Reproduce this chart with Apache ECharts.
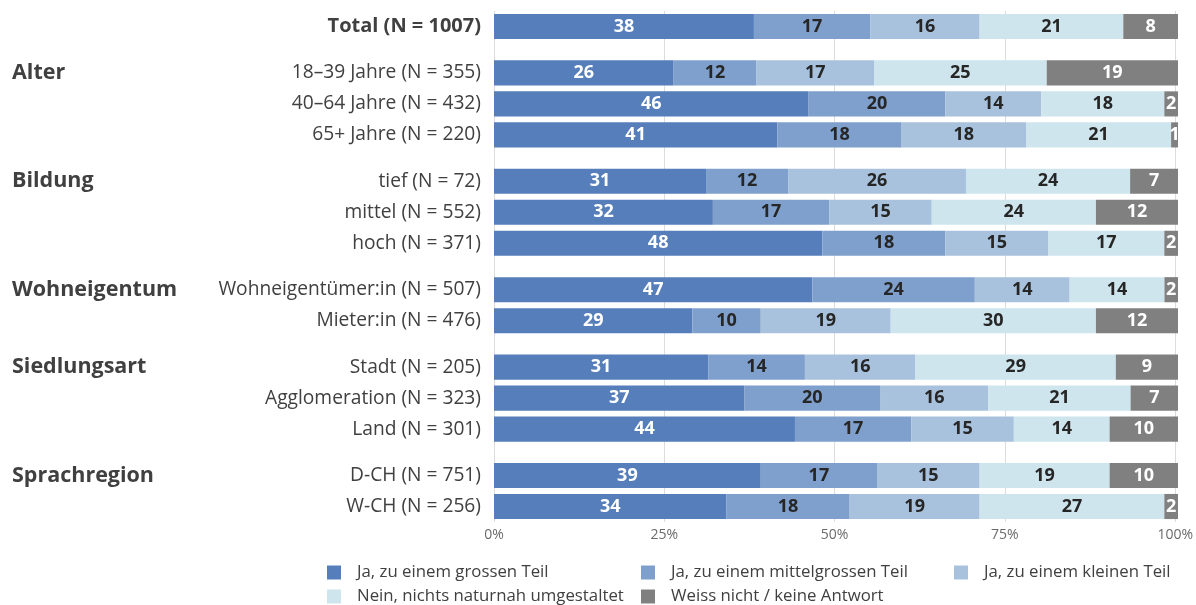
<!DOCTYPE html>
<html>
<head>
<meta charset="utf-8">
<script src="https://cdn.jsdelivr.net/npm/echarts@6/dist/echarts.min.js"></script>
<style>
html,body{margin:0;padding:0;background:#fff;}
#chart{width:1196px;height:605px;}
</style>
</head>
<body>
<div id="chart"></div>
<script>
// ---- data ----
const groupNames = ['', 'Alter', 'Bildung', 'Wohneigentum', 'Siedlungsart', 'Sprachregion'];
const categories = [
  'Total (N = 1007)',
  '18–39 Jahre (N = 355)', '40–64 Jahre (N = 432)', '65+ Jahre (N = 220)',
  'tief (N = 72)', 'mittel (N = 552)', 'hoch (N = 371)',
  'Wohneigentümer:in (N = 507)', 'Mieter:in (N = 476)',
  'Stadt (N = 205)', 'Agglomeration (N = 323)', 'Land (N = 301)',
  'D-CH (N = 751)', 'W-CH (N = 256)'
];
const groupOfRow = [0, 1, 1, 1, 2, 2, 2, 3, 3, 4, 4, 4, 5, 5];
const seriesNames = [
  'Ja, zu einem grossen Teil',
  'Ja, zu einem mittelgrossen Teil',
  'Ja, zu einem kleinen Teil',
  'Nein, nichts naturnah umgestaltet',
  'Weiss nicht / keine Antwort'
];
const jaGross     = [38, 26, 46, 41, 31, 32, 48, 47, 29, 31, 37, 44, 39, 34];
const jaMittel    = [17, 12, 20, 18, 12, 17, 18, 24, 10, 14, 20, 17, 17, 18];
const jaKlein     = [16, 17, 14, 18, 26, 15, 15, 14, 19, 16, 16, 15, 15, 19];
const nein        = [21, 25, 18, 21, 24, 24, 17, 14, 30, 29, 21, 14, 19, 27];
const weissNicht  = [ 8, 19,  2,  1,  7, 12,  2,  2, 12,  9,  7, 10, 10,  2];
const xTickLabels = ['0%', '25%', '50%', '75%', '100%'];

// ---- styles ----
const colors = ['#557EBA', '#7FA0CC', '#A8C2DD', '#CFE5EE', '#808080'];
const labelColors = ['#ffffff', '#262626', '#262626', '#262626', '#ffffff'];
const FONT = "'Open Sans', 'Noto Sans', sans-serif";
const seriesValues = [jaGross, jaMittel, jaKlein, nein, weissNicht];

const gridLeft = 494, gridRight = 18;
const top0 = 11, pitch = 31, groupGap = 15.4;

const rowSums = categories.map((c, i) => seriesValues.reduce((s, arr) => s + arr[i], 0));

const grids = [], xAxes = [], yAxes = [], series = [];

let cur = top0;
const groupLayout = groupNames.map((g, gi) => {
  const rows = [];
  groupOfRow.forEach((gg, r) => { if (gg === gi) rows.push(r); });
  const top = cur;
  const h = rows.length * pitch;
  cur += h + groupGap;
  return { rows, top, h };
});
const plotBottom = groupLayout[groupLayout.length - 1].top + groupLayout[groupLayout.length - 1].h;

// background grid with gridlines & tick labels
grids.push({ left: gridLeft, right: gridRight, top: top0, height: plotBottom - top0 });
xAxes.push({
  gridIndex: 0, type: 'value', min: 0, max: 100, interval: 25,
  axisLine: { show: false }, axisTick: { show: false },
  splitLine: { show: true, lineStyle: { color: '#dcdcdc', width: 1 } },
  axisLabel: {
    margin: 6.5, fontFamily: FONT, fontSize: 14, color: '#6a6a6a',
    formatter: (v) => xTickLabels[Math.round(v / 25)]
  }
});
yAxes.push({ gridIndex: 0, type: 'category', data: [''], show: false });

groupLayout.forEach((gl, gi) => {
  const gIdx = grids.length;
  grids.push({ left: gridLeft, right: gridRight, top: gl.top, height: gl.h });
  const xi = xAxes.length;
  xAxes.push({ gridIndex: gIdx, type: 'value', min: 0, max: 100, show: false, splitLine: { show: false } });
  const cats = gl.rows.map(r => categories[r]);
  const yi = yAxes.length;
  yAxes.push({
    gridIndex: gIdx, type: 'category', data: cats, inverse: true,
    axisLine: { show: false }, axisTick: { show: false }, splitLine: { show: false },
    axisLabel: {
      margin: 13, fontFamily: FONT, fontSize: gi === 0 ? 20 : 19.2, color: '#404040',
      fontWeight: gi === 0 ? 'bold' : 'normal'
    }
  });
  // group-name axis
  yAxes.push({
    gridIndex: gIdx, type: 'category', data: cats, inverse: true, position: 'left',
    offset: gridLeft - 12,
    axisLine: { show: false }, axisTick: { show: false }, splitLine: { show: false },
    axisLabel: {
      margin: 0, align: 'left', fontFamily: FONT, fontSize: 21.5, fontWeight: 'bold', color: '#404040',
      formatter: (v, idx) => idx === 0 ? groupNames[gi] : ''
    }
  });
  seriesValues.forEach((arr, si) => {
    series.push({
      name: seriesNames[si], type: 'bar', stack: 'g' + gi,
      xAxisIndex: xi, yAxisIndex: yi,
      barCategoryGap: '19%',
      itemStyle: { color: colors[si] },
      label: {
        show: true, position: 'inside', fontFamily: FONT, fontSize: 18, fontWeight: 'bold',
        color: labelColors[si],
        formatter: (p) => String(arr[gl.rows[p.dataIndex]])
      },
      emphasis: { disabled: true },
      data: gl.rows.map(r => arr[r] / rowSums[r] * 100)
    });
  });
});

// legend: 3 columns x 2 rows, one legend component per item
const legendCols = [327, 641, 954];
const legendRows = [564, 588];
const legends = seriesNames.map((name, i) => ({
  left: legendCols[i % 3], top: legendRows[Math.floor(i / 3)],
  padding: 0, orient: 'horizontal', icon: 'rect', itemWidth: 14, itemHeight: 14,
  selectedMode: false,
  textStyle: { fontFamily: FONT, fontSize: 16.8, color: '#404040', padding: [0, 0, 0, 11] },
  data: [name]
}));

const option = {
  animation: false,
  backgroundColor: '#ffffff',
  grid: grids,
  xAxis: xAxes,
  yAxis: yAxes,
  legend: legends,
  series: series
};

const chart = echarts.init(document.getElementById('chart'), null, { renderer: 'canvas' });
chart.setOption(option);
</script>
</body>
</html>
